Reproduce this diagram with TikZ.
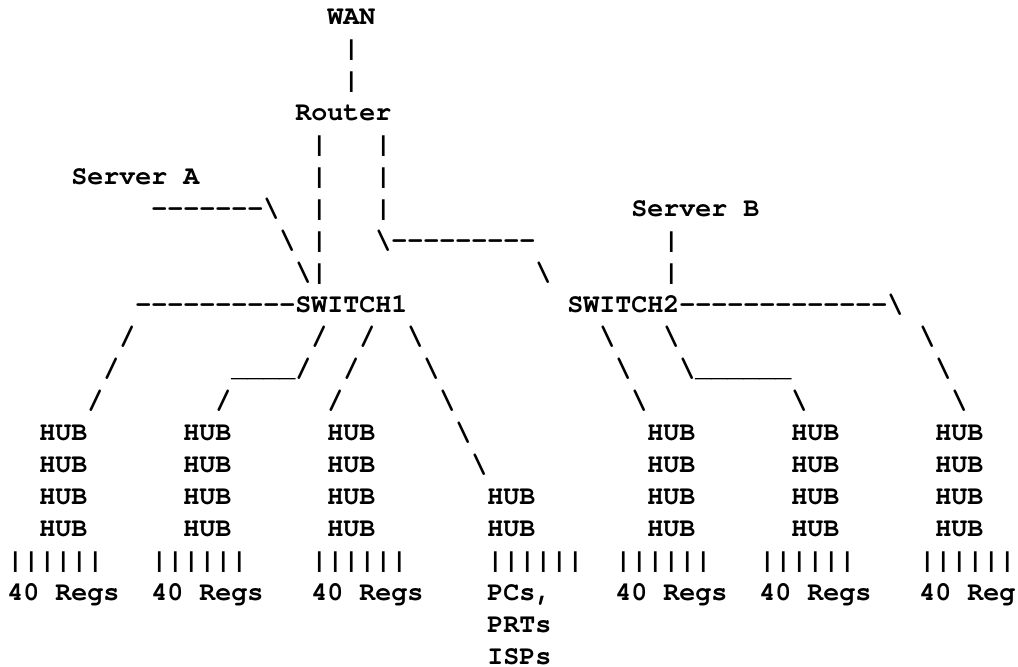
\documentclass[tikz,border=0pt]{standalone}
\usepackage{fontspec}
\newfontfamily\asciifont{texgyrecursor-bold.otf}
\newcommand\bsl{\textbackslash}

\begin{document}
\begin{tikzpicture}[
  x=12pt, y=-24pt,
  txt/.style={anchor=base west, inner sep=0pt,
              font=\asciifont\fontsize{20pt}{24pt}\selectfont}
]
\useasboundingbox (-5.25pt,18.5pt) rectangle (758.25pt,-481.75pt);

% uplink
\node[txt] (wan) at (20,0) {WAN};
\node[txt] (wanup) at (21,1) {|};
\node[txt] (wandn) at (21,2) {|};
\node[txt] (router) at (18,3) {Router};
\foreach \r in {4,5,6,7} \node[txt] (rtl\r) at (19,\r) {|};
\foreach \r in {4,5,6} \node[txt] (rtr\r) at (23,\r) {|};

% servers
\node[txt] (srva) at (4,5) {Server A};
\node[txt] (srvaw) at (9,6) {-------\bsl};
\node[txt] (srvaw2) at (17,7) {\bsl};
\node[txt] (srvaw3) at (18,8) {\bsl|};
\node[txt] (srvb) at (39,6) {Server B};
\foreach \r in {7,8} \node[txt] (srvbw\r) at (41,\r) {|};

% trunk to switch2
\node[txt] (trunk) at (23,7) {\bsl---------};
\node[txt] (trunk2) at (33,8) {\bsl};

% switches
\node[txt] (sw1w) at (8,9) {----------};
\node[txt] (sw1) at (18,9) {SWITCH1};
\node[txt] (sw2) at (35,9) {SWITCH2};
\node[txt] (sw2w) at (42,9) {-------------\bsl};

% branches
\foreach \c/\r [count=\i] in {7/10,6/11,5/12,19/10,13/12,22/10,21/11,20/12}
  \node[txt] (fw\i) at (\c,\r) {/};
\node[txt] (bend1) at (14,11) {\_\_\_\_/};
\foreach \c/\r [count=\i] in {25/10,26/11,27/12,28/13,29/14,
                             37/10,38/11,39/12,41/10,49/12,57/10,58/11,59/12}
  \node[txt] (bw\i) at (\c,\r) {\bsl};
\node[txt] (bend2) at (42,11) {\bsl\_\_\_\_\_\_};

% hubs
\foreach \c in {2,11,20,40,49,58}
  \foreach \r in {13,...,16}
    \node[txt] (hub\c-\r) at (\c,\r) {HUB};
\foreach \r in {15,16} \node[txt] (hub30-\r) at (30,\r) {HUB};

% drops and labels
\foreach \c in {0,9,19,30,38,47,57} \node[txt] (drop\c) at (\c,17) {||||||};
\foreach \c in {0,9,19,38,47} \node[txt] (regs\c) at (\c,18) {40 Regs};
\node[txt] (regs57) at (57,18) {40 Reg};
\node[txt] (pcs) at (30,18) {PCs,};
\node[txt] (prts) at (30,19) {PRTs};
\node[txt] (isps) at (30,20) {ISPs};
\end{tikzpicture}
\end{document}
